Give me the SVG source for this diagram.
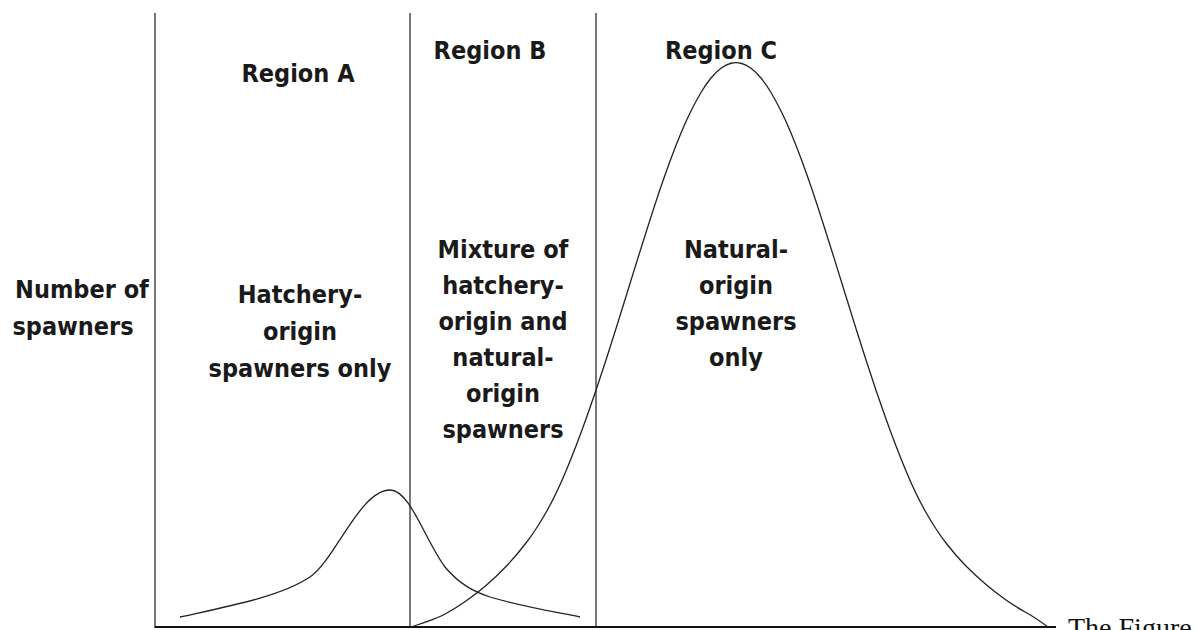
<svg xmlns="http://www.w3.org/2000/svg" width="1197" height="630" viewBox="0 0 1197 630">
<style>
.t{font-family:"DejaVu Sans Condensed","DejaVu Sans",sans-serif;font-weight:bold;font-size:25px;fill:#1a1a1a;text-anchor:middle}
.v{stroke:#555;stroke-width:1.6;fill:none}
.c{stroke:#222;stroke-width:1.3;fill:none}
</style>
<rect width="1197" height="630" fill="#fff"/>
<g id="axes">
<line class="v" x1="155" y1="13" x2="155" y2="628"/>
<line class="v" x1="410" y1="13" x2="410" y2="628"/>
<line class="v" x1="596" y1="13" x2="596" y2="628"/>
<line x1="155" y1="627" x2="1056" y2="627" stroke="#111" stroke-width="1.8"/>
</g>
<g id="curves">
<path id="hatchery" class="c" d="M180,617 C225,607 280,597 310,577 C335,560 360,490 390,490 C410,490 425,540 445,567 C460,585 475,592 490,597 C520,606 550,611 580,617"/>
<path id="natural" class="c" d="M411,627 Q436,619 446,613.5 Q456,608 466,601 Q476,594 486,585.5 Q496,577 506,566.5 Q516,556 526,543 Q536,530 546,512.5 Q556,495 566,471 Q576,447 586,419 Q596,391 606,360 Q616,329 626,296.5 Q636,264 646,232.5 Q656,201 661,186.5 Q666,172 671,158.5 Q676,145 681,133 Q686,121 691,111 Q696,101 701,92.5 Q706,84 711,78 Q716,72 721,68.25 Q726,64.5 731,63.25 Q736,62 741,63.25 Q746,64.5 751,68.25 Q756,72 761,78 Q766,84 771,92.5 Q776,101 781,111 Q786,121 791,133 Q796,145 801,158.5 Q806,172 811,186.5 Q816,201 826,232.5 Q836,264 846,296.5 Q856,329 866,360 Q876,391 886,419 Q896,447 906,471 Q916,495 926,512.5 Q936,530 946,543 Q956,556 966,566 Q976,576 986,584.5 Q996,593 1006,600 Q1016,607 1026,612.5 Q1036,618 1048,627"/>
</g>
<g id="labels">
<text class="t" x="82" y="298">Number of</text>
<text class="t" x="73" y="335">spawners</text>
<text class="t" x="298" y="82">Region A</text>
<text class="t" x="490" y="59">Region B</text>
<text class="t" x="721" y="59">Region C</text>
<text class="t" x="300" y="303">Hatchery-</text>
<text class="t" x="300" y="340">origin</text>
<text class="t" x="300" y="377">spawners only</text>
<text class="t" x="503" y="258">Mixture of</text>
<text class="t" x="503" y="294">hatchery-</text>
<text class="t" x="503" y="330">origin and</text>
<text class="t" x="503" y="366">natural-</text>
<text class="t" x="503" y="402">origin</text>
<text class="t" x="503" y="438">spawners</text>
<text class="t" x="736" y="258">Natural-</text>
<text class="t" x="736" y="294">origin</text>
<text class="t" x="736" y="330">spawners</text>
<text class="t" x="736" y="366">only</text>
<text x="1068" y="637" font-family="Liberation Serif,serif" font-size="28" fill="#111">The Figure</text>
</g>
</svg>
